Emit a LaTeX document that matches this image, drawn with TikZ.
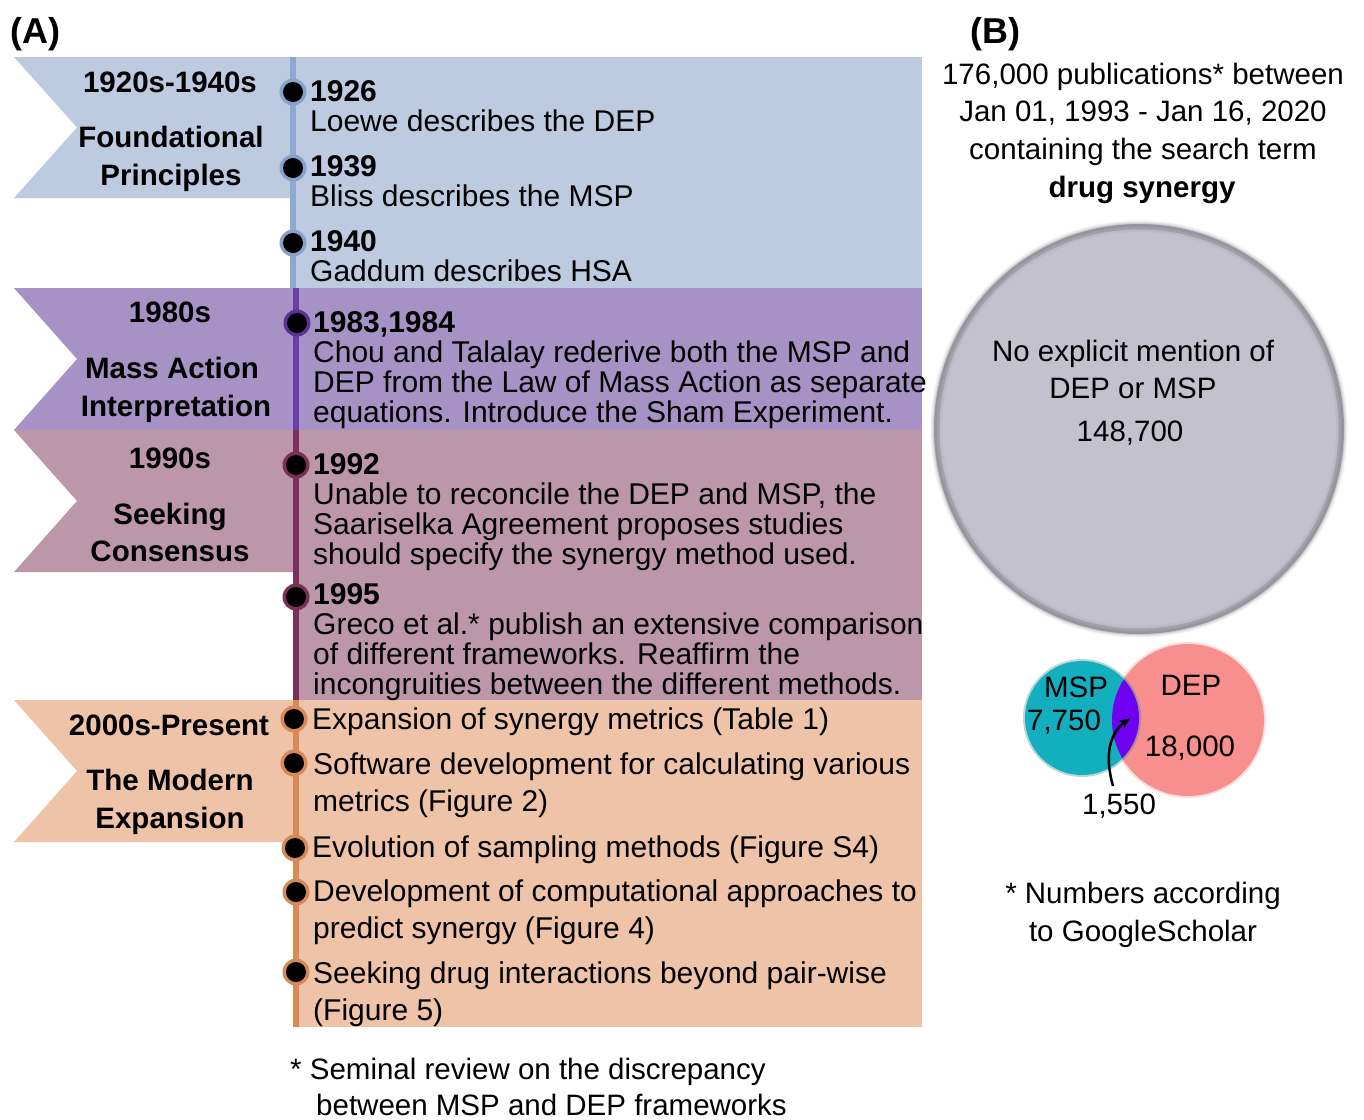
\documentclass[tikz,border=0pt]{standalone}
\usepackage{fontspec}
\setmainfont{Liberation Sans}
\usetikzlibrary{arrows.meta}
\definecolor{bandA}{HTML}{BDCBE0}
\definecolor{lineA}{HTML}{8FA8CF}
\definecolor{ringA}{HTML}{86A2CB}
\definecolor{bandB}{HTML}{A692C4}
\definecolor{lineB}{HTML}{6A3FA6}
\definecolor{ringB}{HTML}{5A3296}
\definecolor{bandC}{HTML}{BB97A9}
\definecolor{lineC}{HTML}{7C2F57}
\definecolor{bandD}{HTML}{EEC3A8}
\definecolor{lineD}{HTML}{D78957}
\definecolor{bigfill}{HTML}{C3C2CC}
\definecolor{bigedge}{HTML}{97969E}
\definecolor{mspc}{HTML}{14AFBE}
\definecolor{depc}{HTML}{F68F8E}
\definecolor{bothc}{HTML}{7000F0}
\tikzset{
  evt/.style={anchor=base west, inner sep=0pt, font=\fontsize{30}{30}\selectfont},
  yr/.style={anchor=base west, inner sep=0pt, font=\bfseries\fontsize{30}{30}\selectfont},
  flagtxt/.style={anchor=base, inner sep=0pt, font=\bfseries\fontsize{29.5}{30}\selectfont},
  ctr/.style={anchor=base, inner sep=0pt, font=\fontsize{29.5}{30}\selectfont},
  panel/.style={anchor=base west, inner sep=0pt, font=\bfseries\fontsize{36}{40}\selectfont},
  tline/.style={line width=5.5pt},
  pin/.style={circle, inner sep=0pt, minimum size=27pt}
}
\newcommand{\tdot}[3]{%
  \node[pin] (#1) at (#2) {};
  \fill[#3] (#1.center) circle[radius=13.5];
  \fill[black] (#1.center) circle[radius=10];
}
\begin{document}
\begin{tikzpicture}[x=1pt,y=-1pt]
\useasboundingbox (0,0) rectangle (1364,1119);
\fill[white] (0,0) rectangle (1364,1119);

% ---------- bands ----------
\fill[bandA] (295,57) rectangle (922,288);
\fill[bandA] (14,57) -- (295,57) -- (295,198) -- (14,198) -- (77,127.5) -- cycle;
\fill[bandB] (295,288) rectangle (922,430);
\fill[bandB] (14,288) -- (295,288) -- (295,430) -- (14,430) -- (77,359) -- cycle;
\fill[bandC] (295,430) rectangle (922,700);
\fill[bandC] (14,430) -- (295,430) -- (295,572) -- (14,572) -- (77,501) -- cycle;
\fill[bandD] (295,700) rectangle (922,1027);
\fill[bandD] (14,700) -- (295,700) -- (295,842) -- (14,842) -- (77,771) -- cycle;

% ---------- timeline ----------
\coordinate (la1) at (293,57);  \coordinate (la2) at (293,288);
\coordinate (lb1) at (296,288); \coordinate (lb2) at (296,430);
\coordinate (lc1) at (296,430); \coordinate (lc2) at (296,700);
\coordinate (ld1) at (296,700); \coordinate (ld2) at (296,1027);
\draw[tline, lineA] (la1) -- (la2);
\draw[tline, lineB] (lb1) -- (lb2);
\draw[tline, lineC] (lc1) -- (lc2);
\draw[tline, lineD] (ld1) -- (ld2);

\tdot{d1}{293,92}{ringA}
\tdot{d2}{293,168}{ringA}
\tdot{d3}{293,243}{ringA}
\tdot{d4}{297,323}{ringB}
\tdot{d5}{296,465}{lineC}
\tdot{d6}{296,597}{lineC}
\tdot{d7}{294,719}{lineD}
\tdot{d8}{294,763}{lineD}
\tdot{d9}{295,848}{lineD}
\tdot{d10}{296,892}{lineD}
\tdot{d11}{296,972}{lineD}

% ---------- panel labels ----------
\node[panel] (pa) at (10,43) {(A)};
\node[panel] (pb) at (970,43) {(B)};

% ---------- flag texts ----------
\node[flagtxt] (f1a) at (170,92) {1920s-1940s};
\node[flagtxt] (f1b) at (171,147) {Foundational};
\node[flagtxt] (f1c) at (171,185) {Principles};
\node[flagtxt] (f2a) at (170,322) {1980s};
\node[flagtxt] (f2b) at (172,378) {Mass Action};
\node[flagtxt] (f2c) at (176,416) {Interpretation};
\node[flagtxt] (f3a) at (170,468) {1990s};
\node[flagtxt] (f3b) at (170,524) {Seeking};
\node[flagtxt] (f3c) at (170,561) {Consensus};
\node[flagtxt] (f4a) at (169,735) {2000s-Present};
\node[flagtxt] (f4b) at (170,790) {The Modern};
\node[flagtxt] (f4c) at (170,828) {Expansion};

% ---------- events ----------
\node[yr] (y1926) at (310,101) {1926};
\node[evt] (e1926) at (310,131) {Loewe describes the DEP};
\node[yr] (y1939) at (310,176) {1939};
\node[evt] (e1939) at (310,206) {Bliss describes the MSP};
\node[yr] (y1940) at (310,251) {1940};
\node[evt] (e1940) at (310,281) {Gaddum describes HSA};

\node[yr] (y1983) at (313,332) {1983,1984};
\node[evt] (e1983a) at (313,362) {Chou and Talalay rederive both the MSP and};
\node[evt] (e1983b) at (313,392) {DEP from the Law of Mass Action as separate};
\node[evt] (e1983c) at (313,422) {equations. Introduce the Sham Experiment.};

\node[yr] (y1992) at (313,474) {1992};
\node[evt] (e1992a) at (313,504) {Unable to reconcile the DEP and MSP, the};
\node[evt] (e1992b) at (313,534) {Saariselka Agreement proposes studies};
\node[evt] (e1992c) at (313,564) {should specify the synergy method used.};

\node[yr] (y1995) at (313,604) {1995};
\node[evt] (e1995a) at (313,634) {Greco et al.* publish an extensive comparison};
\node[evt] (e1995b) at (313,664) {of different frameworks. Reaffirm the};
\node[evt] (e1995c) at (313,694) {incongruities between the different methods.};

\node[evt] (m1) at (312,729) {Expansion of synergy metrics (Table 1)};
\node[evt] (m2a) at (313,774) {Software development for calculating various};
\node[evt] (m2b) at (313,811) {metrics (Figure 2)};
\node[evt] (m3) at (312,857) {Evolution of sampling methods (Figure S4)};
\node[evt] (m4a) at (313,901) {Development of computational approaches to};
\node[evt] (m4b) at (313,938) {predict synergy (Figure 4)};
\node[evt] (m5a) at (313,983) {Seeking drug interactions beyond pair-wise};
\node[evt] (m5b) at (313,1020) {(Figure 5)};

\node[ctr, anchor=base west] (fnA1) at (290,1079) {* Seminal review on the discrepancy};
\node[ctr, anchor=base west] (fnA2) at (316,1115) {between MSP and DEP frameworks};

% ---------- panel B ----------
\node[ctr] (b1) at (1143,84) {176,000 publications* between};
\node[ctr] (b2) at (1143,121) {Jan 01, 1993 - Jan 16, 2020};
\node[ctr] (b3) at (1143,159) {containing the search term};
\node[ctr, font=\bfseries\fontsize{29.5}{30}\selectfont] (b4) at (1142,197) {drug synergy};

% big circle with soft edge
\foreach \r/\o in {209/0.06,208/0.1,207/0.16,206/0.25} {
  \fill[bigedge, opacity=\o] (1139,429) circle[radius=\r];
}
\fill[bigedge] (1139,429) circle[radius=205];
\fill[bigedge!75!bigfill] (1139,429) circle[radius=202];
\fill[bigfill!85!bigedge] (1139,429) circle[radius=199.5];
\fill[bigfill] (1139,429) circle[radius=197];
\node[ctr] (c1) at (1133,361) {No explicit mention of};
\node[ctr] (c2) at (1133,398) {DEP or MSP};
\node[ctr] (c3) at (1130,441) {148,700};

% Venn
\fill[depc, opacity=0.3] (1188,720) circle[radius=78];
\fill[depc] (1188,720) circle[radius=76];
\fill[mspc!70!black, opacity=0.3] (1082,718) circle[radius=59];
\fill[mspc] (1082,718) circle[radius=57];
\begin{scope}
  \clip (1082,718) circle[radius=57];
  \fill[bothc] (1188,720) circle[radius=76];
\end{scope}
\node[ctr] (vmsp) at (1076,697) {MSP};
\node[ctr] (vmspn) at (1064,730) {7,750};
\node[ctr] (vdep) at (1191,695) {DEP};
\node[ctr] (vdepn) at (1190,756) {18,000};
\node[ctr] (vboth) at (1119,814) {1,550};
\coordinate (arrs) at (1113,786);
\coordinate (arre) at (1130,718);
\draw[line width=2.5pt, -{Stealth[length=11pt,width=9pt]}] (arrs) .. controls (1105,758) and (1108,735) .. (arre);

\node[ctr] (fnB1) at (1143,903) {* Numbers according};
\node[ctr] (fnB2) at (1143,941) {to GoogleScholar};
\end{tikzpicture}
\end{document}
